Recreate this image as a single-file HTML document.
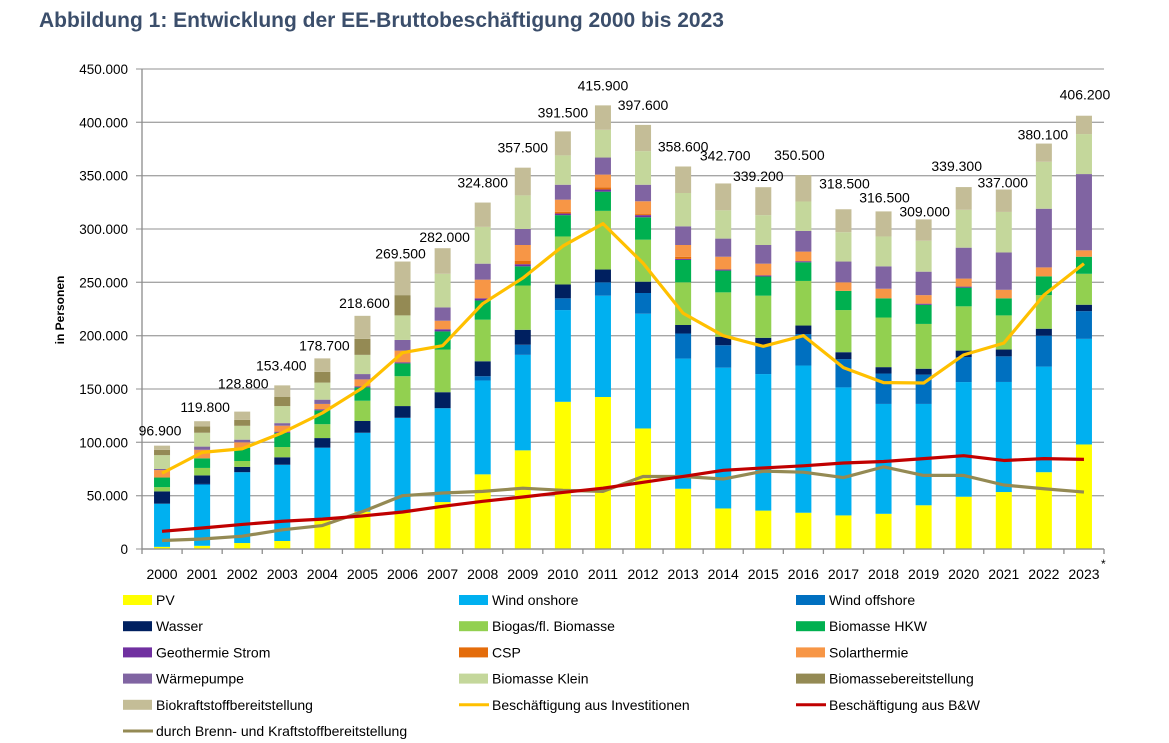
<!DOCTYPE html>
<html lang="de"><head><meta charset="utf-8">
<style>
body{margin:0;background:#fff;width:1169px;height:743px;overflow:hidden;font-family:"Liberation Sans",Arial,sans-serif}
#title{position:absolute;left:39px;top:9px;font-size:21px;font-weight:bold;color:#3b4e6b;white-space:nowrap}
svg{position:absolute;left:0;top:0}
text{font-family:"Liberation Sans",Arial,sans-serif}
</style></head>
<body>
<div id="title">Abbildung 1: Entwicklung der EE-Bruttobeschäftigung 2000 bis 2023</div>
<svg id="chart" width="1169" height="743"></svg>
<script>
const years=["2000","2001","2002","2003","2004","2005","2006","2007","2008","2009","2010","2011","2012","2013","2014","2015","2016","2017","2018","2019","2020","2021","2022","2023"];
const totals=[96900,119800,128800,153400,178700,218600,269500,282000,324800,357500,391500,415900,397600,358600,342700,339200,350500,318500,316500,309000,339300,337000,380100,406200];
const pv=[2,3,5.6,7.5,27.5,35,34,44,70,92.5,138,142.5,113,56.5,38,36,34,31.5,33,41,49,53.4,72,98];
const windOn=[40.5,57,66.4,71.5,67.5,74,89,88,88,89.5,86,95,107.6,122,132,128,138,120,103,95,107.5,103.2,99,99];
const windOff=[0,1,0,0,0,0,0,0,4,9.5,11,12.5,19.4,23.5,21,26,29.5,26.5,28.5,27.5,23.5,24,29,26];
const wasser=[11.5,8,5,7,9,11,11,15,14,14,13,12,10.6,8,8,8,8,6.5,6,5.5,6,6.4,6.5,6];
const biogas=[4,7,5.5,9.6,13,19,28,40,39,41.5,45,55,39.4,40,41.6,39.5,41.8,39.5,46.5,42,41.5,32,31.5,29];
const hkw=[9,9,12.5,13.4,13,12.5,12,17,18,18,20,18,21,21,20.4,18,17.5,18,18,18,17.5,16,17.6,16];
const geo=[0,0,0,1,1,1,1,2,2,2,1.5,2,2,1,1,1,1,0,0,1,1,0,0,0];
const csp=[0,0,0,0,0,0,0,0,0,3,1.5,2,1,2,0,0,0,0,0,0,0,0,0,0];
const solar=[7,8,5,5.6,5,6.5,11,8,17.5,15,11.5,12,12,11,12,11,9,8,9,8,7.5,8,8.4,6];
const wp=[1,3,2.5,2.4,4,5,10,12.5,15,15,14,16,15.5,17.5,17,17.5,19.4,19.5,21,22,29,35,55,71.5];
const bmKlein=[13,13,13,16,16,18,23,31.5,34.5,31.5,27.5,26,31.5,31.25,26.5,28,27.6,27.5,28,29,35.5,38,44,37.5];
const bmBereit=[5,6,5.5,8.5,10,15,19,0,0,0,0,0,0,0,0,0,0,0,0,0,0,0,0,0];
const bioKraft=[3.9,4.8,7.8,10.9,12.7,21.6,31.5,24,22.8,26,22.5,22.9,24.6,24.85,25.2,26.2,24.7,21.5,23.5,20,21.3,21,17.1,17.2];
const invest=[71,90.6,94,109,127.5,151,184,190.6,230,254,284,305,268,221,200,190,200,170,156,155.6,182,193,238,267.5];
const bw=[16.6,19.7,23,26,28,31,34.7,40,44.7,48.75,53,57,62.5,68,73.75,76,78,80.6,82,84.7,87.5,83,84.7,84];
const brenn=[8,9.4,12,18,22,35,50,52.5,54,57,55,54,68,68,65.6,73,72,67,77,69,69,60,56.5,53.4];
const yTicks=[0,50000,100000,150000,200000,250000,300000,350000,400000,450000];
const yTickLabels=["0","50.000","100.000","150.000","200.000","250.000","300.000","350.000","400.000","450.000"];
// label layout offsets (pixels, not data)
const labelDx=[-2,3,1,-1,2,2,-2,2,0,0,0,0,0,0,2,-5,-4,1,1,1,-7,-1,-1,1];
const labelDy=[10,9,23,15,8,8,3,6,15,15,14,15,15,15,23,6,15,21,9,3,16,2,4,16];

const NS="http://www.w3.org/2000/svg";
const svg=document.getElementById('chart');
const X0=142,X1=1104,Y0=549,Y1=69,YMAX=450000;
const cw=(X1-X0)/years.length;
const y=v=>Y0-(v/YMAX)*(Y0-Y1);
const xc=i=>X0+cw*(i+0.5);
function mk(tag,attrs,parent){const e=document.createElementNS(NS,tag);for(const k in attrs)e.setAttribute(k,attrs[k]);(parent||svg).appendChild(e);return e;}

yTicks.forEach((t,i)=>{
  const g=mk('line',{x1:136,x2:X1,y1:y(t),y2:y(t),stroke:'#a6a6a6','stroke-width':1.3});
  
  
  const tx=mk('text',{x:128,y:y(t)+5,'text-anchor':'end','font-size':13.5,fill:'#000'});
  tx.textContent=yTickLabels[i];
  
  
});
const ax=mk('line',{x1:X0,x2:X0,y1:Y1,y2:Y0,stroke:'#8c8c8c','stroke-width':1.3});


const yt=mk('text',{x:0,y:0,transform:'translate(64,310) rotate(-90)','text-anchor':'middle','font-size':12,'font-weight':'bold'});
yt.textContent='in Personen';



const series=[
 ['PV',pv,'#ffff00'],['Wind onshore',windOn,'#00b0f0'],['Wind offshore',windOff,'#0070c0'],['Wasser',wasser,'#002060'],
 ['Biogas/fl. Biomasse',biogas,'#92d050'],['Biomasse HKW',hkw,'#00b050'],['Geothermie Strom',geo,'#7030a0'],['CSP',csp,'#e46c0a'],
 ['Solarthermie',solar,'#f79646'],['Wärmepumpe',wp,'#8064a2'],['Biomasse Klein',bmKlein,'#c4d79b'],
 ['Biomassebereitstellung',bmBereit,'#948a54'],['Biokraftstoffbereitstellung',bioKraft,'#c4bd97']];
const bw_=16;
years.forEach((yr,i)=>{
  let cum=0;
  series.forEach(s=>{
    const v=s[1][i]*1000; if(v<=0)return;
    const r=mk('rect',{x:xc(i)-bw_/2,y:y(cum+v),width:bw_,height:y(cum)-y(cum+v),fill:s[2]});
    
    
    cum+=v;
  });
});
const xa=mk('line',{x1:X0,x2:X1,y1:Y0,y2:Y0,stroke:'#8c8c8c','stroke-width':1.3});


for(let i=0;i<=years.length;i++){mk('line',{x1:X0+cw*i,x2:X0+cw*i,y1:Y0,y2:Y0+5,stroke:'#8c8c8c','stroke-width':1.3});}
years.forEach((yr,i)=>{
  const t=mk('text',{x:xc(i),y:579,'text-anchor':'middle','font-size':14});
  t.textContent=yr;
  
  
});
const ast=mk('text',{x:1101,y:568,'font-size':12});ast.textContent='*';



function line(arr,color,name){
  const p=arr.map((v,i)=>xc(i)+','+y(v*1000)).join(' ');
  const l=mk('polyline',{points:p,fill:'none',stroke:color,'stroke-width':3.2,'stroke-linejoin':'round'});
  
  
}
line(brenn,'#948a54','line-brenn-kraftstoff');
line(bw,'#c00000','line-b-und-w');
line(invest,'#ffc000','line-investitionen');

totals.forEach((v,i)=>{
  const t=mk('text',{x:xc(i)+labelDx[i],y:y(v)-labelDy[i],'text-anchor':'middle','font-size':14});
  t.textContent=v.toLocaleString('de-DE');
  
  
});

const legend=[
 ['PV','#ffff00','box'],['Wind onshore','#00b0f0','box'],['Wind offshore','#0070c0','box'],
 ['Wasser','#002060','box'],['Biogas/fl. Biomasse','#92d050','box'],['Biomasse HKW','#00b050','box'],
 ['Geothermie Strom','#7030a0','box'],['CSP','#e46c0a','box'],['Solarthermie','#f79646','box'],
 ['Wärmepumpe','#8064a2','box'],['Biomasse Klein','#c4d79b','box'],['Biomassebereitstellung','#948a54','box'],
 ['Biokraftstoffbereitstellung','#c4bd97','box'],['Beschäftigung aus Investitionen','#ffc000','line'],['Beschäftigung aus B&W','#c00000','line'],
 ['durch Brenn- und Kraftstoffbereitstellung','#948a54','line']];
const colX=[123,459,796];
legend.forEach((l,i)=>{
  const cx=colX[i%3], cy=600+Math.floor(i/3)*26.2;
  const g=mk('g',{});
  
  
  if(l[2]==='box') mk('rect',{x:cx,y:cy-5,width:29,height:10,fill:l[1]},g);
  else mk('line',{x1:cx,x2:cx+30,y1:cy,y2:cy,stroke:l[1],'stroke-width':3},g);
  const t=mk('text',{x:cx+33,y:cy+5,'font-size':14},g);
  t.textContent=l[0];
});
</script>
</body></html>
